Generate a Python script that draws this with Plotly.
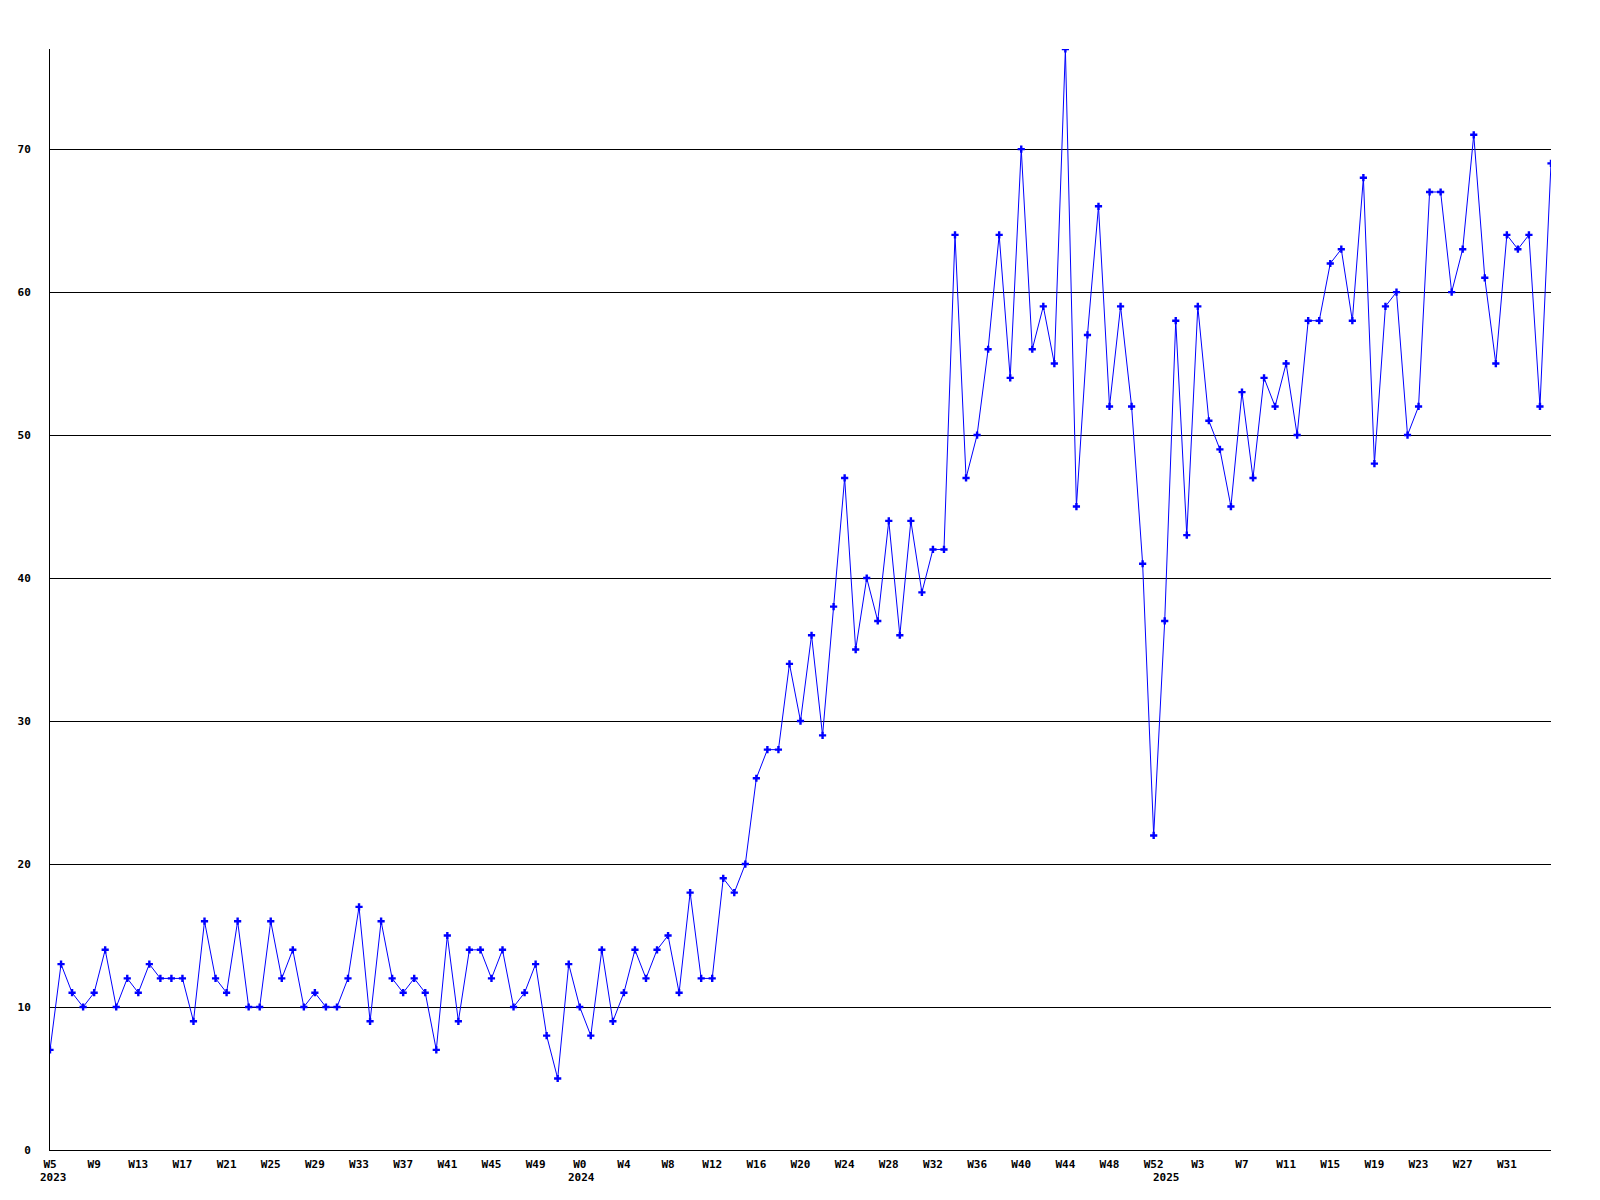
import plotly.graph_objects as go

# Weekly values, 2023-W5 .. 2025-W35
values = [
    7, 13, 11, 10, 11, 14, 10, 12, 11, 13, 12, 12, 12, 9, 16, 12, 11, 16, 10, 10,
    16, 12, 14, 10, 11, 10, 10, 12, 17, 9, 16, 12, 11, 12,
    11, 7, 15, 9, 14, 14, 12, 14, 10, 11, 13, 8, 5, 13, 10, 8, 14, 9, 11, 14,
    12, 14, 15, 11, 18, 12, 12, 19, 18, 20,
    26, 28, 28, 34, 30, 36, 29, 38, 47, 35, 40, 37, 44, 36, 44, 39, 42, 42, 64, 47,
    50, 56, 64, 54, 70, 56, 59, 55, 77, 45, 57, 66, 52, 59, 52, 41, 22, 37, 58, 43,
    59, 51, 49, 45,
    53, 47, 54, 52, 55, 50, 58, 58, 62, 63, 58, 68, 48, 59, 60, 50, 52, 67, 67, 60,
    63, 71, 61, 55, 64, 63, 64, 52, 69,
]

# Tick labels, one every 4 weeks
tick_labels = [
    "W5", "W9", "W13", "W17", "W21", "W25", "W29", "W33", "W37", "W41", "W45", "W49",
    "W0", "W4", "W8", "W12", "W16", "W20", "W24", "W28", "W32", "W36", "W40", "W44",
    "W48", "W52",
    "W3", "W7", "W11", "W15", "W19", "W23", "W27", "W31",
]
tick_step = 4

year_labels = ["2023", "2024", "2025"]
year_positions = [0.3, 48.2, 101.2]

y_ticks = [0, 10, 20, 30, 40, 50, 60, 70]

x = list(range(len(values)))
tickvals = [i * tick_step for i in range(len(tick_labels))]

font_family = "DejaVu Sans Mono"

fig = go.Figure()
fig.add_trace(go.Scatter(
    x=x, y=values, mode="lines+markers",
    line=dict(color="#0000FF", width=1),
    marker=dict(symbol="cross", size=6, color="#0000FF", line=dict(width=0)),
    showlegend=False, hoverinfo="x+y",
))

for label, pos in zip(year_labels, year_positions):
    fig.add_annotation(
        x=pos, xref="x", y=0, yref="paper", text=label, showarrow=False,
        xanchor="center", yanchor="middle", yshift=-27,
        font=dict(family=font_family, size=11, color="black", weight="bold"),
    )

fig.update_layout(
    width=1600, height=1200,
    margin=dict(l=50, r=49, t=49, b=50),
    paper_bgcolor="white", plot_bgcolor="white",
    font=dict(family=font_family, size=11, color="black"),
)
fig.update_xaxes(
    range=[0, len(values) - 1], tickvals=tickvals, ticktext=tick_labels,
    showgrid=False, zeroline=False, showline=True, linecolor="black", linewidth=1,
    ticks="", ticklabelstandoff=4,
    tickfont=dict(family=font_family, size=11, color="black", weight="bold"),
)
fig.update_yaxes(
    range=[0, 77], tickvals=y_ticks,
    showgrid=True, gridcolor="black", gridwidth=1, zeroline=False,
    showline=True, linecolor="black", linewidth=1,
    ticks="", ticklabelstandoff=16,
    tickfont=dict(family=font_family, size=11, color="black", weight="bold"),
)

fig.write_html(
    "out.html",
    config={"displayModeBar": False},
    post_script="document.body.style.margin='0';document.body.style.overflow='hidden';",
)
